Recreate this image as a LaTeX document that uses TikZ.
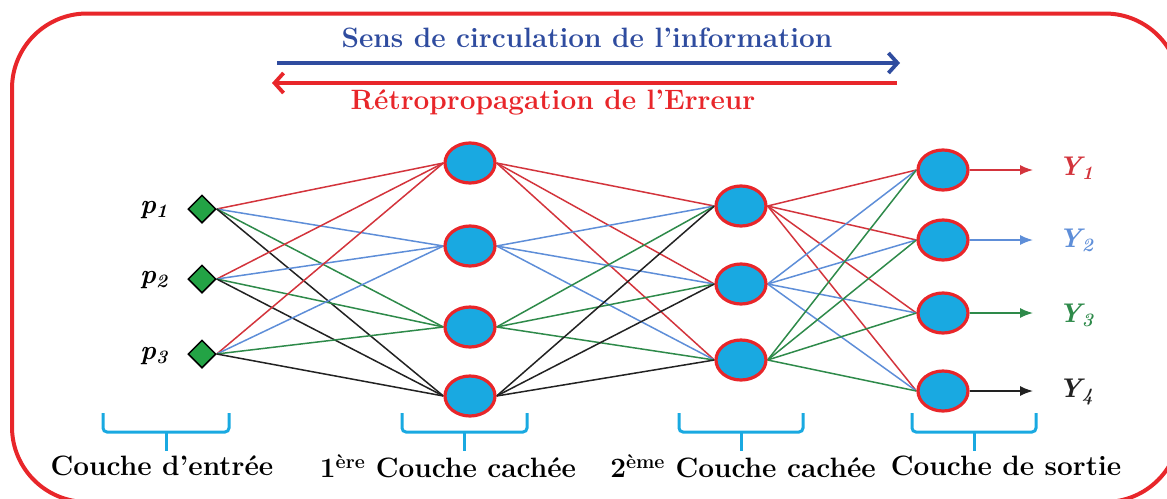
\documentclass[tikz,border=0pt]{standalone}
\usepackage{fontspec}
\usetikzlibrary{arrows.meta,shapes.geometric,backgrounds}
\definecolor{cred}{HTML}{E8262A}
\definecolor{cblue}{HTML}{2F4C9F}
\definecolor{lred}{HTML}{D3343C}
\definecolor{lblue}{HTML}{5E8ED8}
\definecolor{lgreen}{HTML}{2E8A4A}
\definecolor{lblack}{HTML}{222222}
\definecolor{ncyan}{HTML}{19A9E1}
\definecolor{dgreen}{HTML}{23A345}
\begin{document}
\begin{tikzpicture}[x=1pt,y=-1pt,
  neuron/.style={ellipse, draw=cred, line width=3.2pt, fill=ncyan, minimum width=50pt, minimum height=40pt, inner sep=0pt},
  inp/.style={diamond, draw=black, line width=1.5pt, fill=dgreen, minimum size=28pt, inner sep=0pt},
  wire/.style={line width=1.5pt},
  outarrow/.style={line width=1.5pt, -{Latex[length=13pt,width=10pt]}},
  bracepath/.style={draw=ncyan, line width=3pt, rounded corners=4pt},
  big/.style={font=\fontsize{28}{32}\selectfont\bfseries, inner sep=0pt},
  mathlbl/.style={font=\fontsize{27}{31}\selectfont\bfseries\itshape, inner sep=0pt},
  toparrow/.style={line width=3.8pt, -{Straight Barb[length=9pt,width=20pt]}}]
\useasboundingbox (0,0) rectangle (1167,498);
% frame
\draw[cred, line width=4pt, rounded corners=75pt] (12,13.5) rectangle (1180,502);

% top arrows and texts
\node[big, text=cblue] (sens) at (587,38) {Sens de circulation de l’information};
\node[big, text=cred] (retro) at (553,102) {Rétropropagation de l’Erreur};
\coordinate (ba) at (277,63);
\coordinate (bb) at (900,63);
\coordinate (ra) at (897,83);
\coordinate (rb) at (272,83);
\draw[toparrow, cblue] (ba) -- (bb);
\draw[toparrow, cred] (ra) -- (rb);

% input layer
\node[inp] (p1) at (202,209) {};
\node[inp] (p2) at (202,279) {};
\node[inp] (p3) at (202,354) {};
\node[mathlbl] (lp1) at (154,210) {p\textsubscript{1}};
\node[mathlbl] (lp2) at (154,280) {p\textsubscript{2}};
\node[mathlbl] (lp3) at (154,356) {p\textsubscript{3}};

% hidden layer 1
\node[neuron] (h1) at (470,163) {};
\node[neuron] (h2) at (470,246) {};
\node[neuron] (h3) at (470,327) {};
\node[neuron] (h4) at (470,396) {};

% hidden layer 2
\node[neuron] (g1) at (741,206) {};
\node[neuron] (g2) at (741,284) {};
\node[neuron] (g3) at (741,360) {};

% output layer
\node[neuron] (o1) at (943,170) {};
\node[neuron] (o2) at (943,240) {};
\node[neuron] (o3) at (943,313) {};
\node[neuron] (o4) at (943,391) {};

\begin{pgfonlayer}{background}
\foreach \i in {1,2,3}{
  \foreach \j/\c in {1/lred,2/lblue,3/lgreen,4/lblack}{
    \draw[wire,\c] (p\i.east) -- (h\j.west);
  }
}
\foreach \j/\c in {1/lred,2/lblue,3/lgreen,4/lblack}{
  \foreach \k in {1,2,3}{
    \draw[wire,\c] (h\j.east) -- (g\k.west);
  }
}
\foreach \k/\c in {1/lred,2/lblue,3/lgreen}{
  \foreach \m in {1,2,3,4}{
    \draw[wire,\c] (g\k.east) -- (o\m.west);
  }
}
\end{pgfonlayer}

% outputs
\coordinate (e1) at (1033,170);
\coordinate (e2) at (1033,240);
\coordinate (e3) at (1033,313);
\coordinate (e4) at (1033,391);
\draw[outarrow, lred] (o1.east) -- (e1);
\draw[outarrow, lblue] (o2.east) -- (e2);
\draw[outarrow, lgreen] (o3.east) -- (e3);
\draw[outarrow, lblack] (o4.east) -- (e4);
\node[mathlbl, text=lred] (y1) at (1076,168) {Y\textsubscript{1}};
\node[mathlbl, text=lblue] (y2) at (1076,240) {Y\textsubscript{2}};
\node[mathlbl, text=lgreen] (y3) at (1076,315) {Y\textsubscript{3}};
\node[mathlbl, text=lblack] (y4) at (1076,392) {Y\textsubscript{4}};

% braces
\foreach \a/\b in {103/229, 402/527, 679/803, 912/1036}{
  \draw[bracepath] (\a,413) -- (\a,432) -- (\b,432) -- (\b,413);
  \draw[draw=ncyan, line width=3pt] ({(\a+\b)/2},432) -- ({(\a+\b)/2},451);
}

% layer labels
\node[big] (l1) at (162,466) {Couche d’entrée};
\node[big] (l2) at (448,466) {1\textsuperscript{ère} Couche cachée};
\node[big] (l3) at (743,466) {2\textsuperscript{ème} Couche cachée};
\node[big] (l4) at (1006,466) {Couche de sortie};
\end{tikzpicture}
\end{document}
